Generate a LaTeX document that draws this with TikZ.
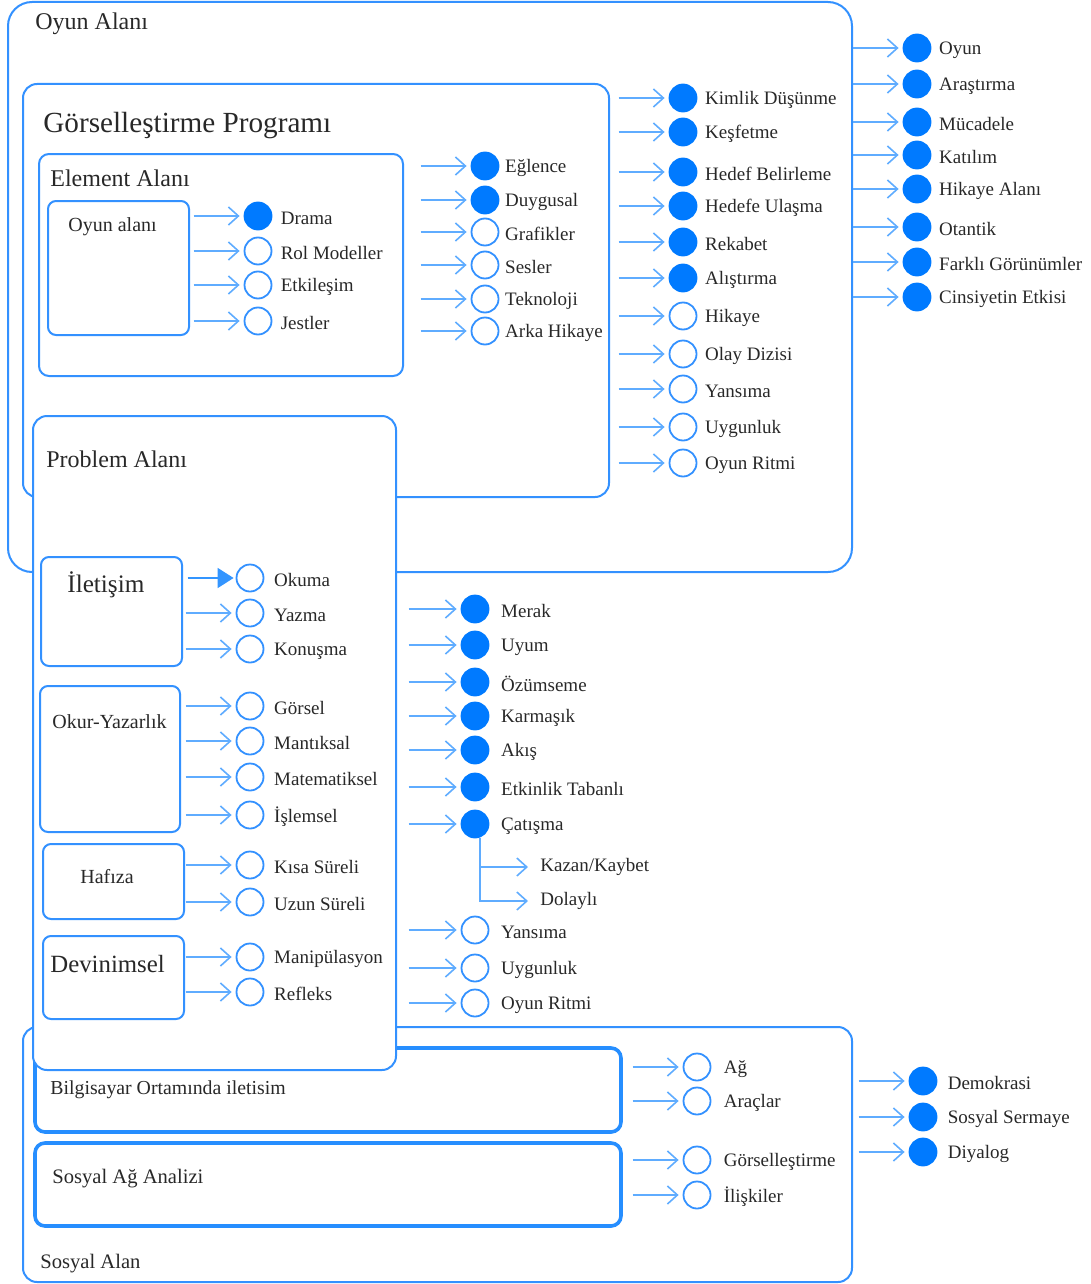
\documentclass[tikz,border=0pt]{standalone}
\usepackage{fontspec}
\setmainfont{Liberation Serif}
\usetikzlibrary{positioning,arrows.meta}
\definecolor{boxblue}{RGB}{51,145,255}
\definecolor{arrblue}{RGB}{95,172,255}
\definecolor{dotblue}{RGB}{0,122,255}
\definecolor{txtgray}{RGB}{40,40,40}
\tikzset{%
	area/.style     = {draw=boxblue, line width=1pt, rounded corners=7pt},
	heavy/.style    = {draw=dotblue!85!white, line width=1.8pt, rounded corners=5pt},
	ring/.style     = {draw=boxblue, line width=0.9pt, circle, minimum size=13.5pt, inner sep=0pt},
	dot/.style      = {ring, fill=dotblue, draw=dotblue}, % filled
	lbl/.style      = {inner sep=0pt, text=txtgray, yshift=-1pt, font=\fontsize{9.5}{11}\selectfont},
	head/.style     = {inner sep=0pt, anchor=west, yshift=-1pt, text=txtgray},
	arr/.style      = {draw=arrblue, line width=0.8pt, shorten >=2pt,
		-{Straight Barb[length=5pt,width=9pt]}},
	okarr/.style    = {draw=dotblue!80!white, line width=0.8pt, shorten >=1pt,
		-{Triangle[length=8pt,width=10pt]}}
}

\begin{document}
\begin{tikzpicture}[x=0.5pt,y=-0.5pt]
	\useasboundingbox (0,0) rectangle (1091,1284);

	% areas
	\draw[area, rounded corners=12pt] (8,2) rectangle (852,572);
	\draw[area] (23,84) rectangle (609,497);
	\draw[area, rounded corners=5pt] (39,154) rectangle (403,376);
	\draw[area, rounded corners=4pt] (48,201) rectangle (189,335);
	\draw[area] (23,1027) rectangle (852,1282);
	\draw[heavy] (35,1048) rectangle (621,1132);
	\draw[heavy] (35,1143) rectangle (621,1226);
	\draw[area, fill=white] (33,416) rectangle (396,1070);
	\draw[area, rounded corners=4pt] (41,557) rectangle (182,666);
	\draw[area, rounded corners=4pt] (40,686) rectangle (180,832);
	\draw[area, rounded corners=4pt] (43,844) rectangle (184,919);
	\draw[area, rounded corners=4pt] (43,936) rectangle (184,1019);

	% titles
	\node[head, font=\fontsize{12}{14}\selectfont] (toyun) at (35,22) {Oyun Alanı};
	\node[head, font=\fontsize{14.6}{17}\selectfont] (tgorsel) at (43,124) {Görselleştirme Programı};
	\node[head, font=\fontsize{12}{14}\selectfont] (telement) at (50,176) {Element Alanı};
	\node[head, font=\fontsize{10}{12}\selectfont] (toyunalan) at (68,225) {Oyun alanı};
	\node[head, font=\fontsize{12}{14}\selectfont] (tproblem) at (46,457) {Problem Alanı};
	\node[head, font=\fontsize{12.6}{15}\selectfont] (tilet) at (67,583) {İletişim};
	\node[head, font=\fontsize{10}{12}\selectfont] (tokur) at (52,720) {Okur-Yazarlık};
	\node[head, font=\fontsize{10}{12}\selectfont] (thafiza) at (80,875) {Hafıza};
	\node[head, font=\fontsize{12.4}{15}\selectfont] (tdevin) at (50,962) {Devinimsel};
	\node[head, font=\fontsize{9.9}{12}\selectfont] (tbilg) at (50,1088) {Bilgisayar Ortamında iletisim};
	\node[head, font=\fontsize{10.3}{12}\selectfont] (tsag) at (52,1177) {Sosyal Ağ Analizi};
	\node[head, font=\fontsize{10.3}{12}\selectfont] (tsosyal) at (40,1262) {Sosyal Alan};

	% element alani
	\foreach \y/\t/\s [count=\i] in {216/Drama/dot, 251/Rol Modeller/ring,
		285/Etkileşim/ring, 321/Jestler/ring}{
		\node[\s] (e\i) at (258,\y) {};
		\node[lbl, right=4pt of e\i] (le\i) {\t};
		\draw[arr] ([xshift=-25pt]e\i.west) -- (e\i);
	}

	% gorsellestirme programi
	\foreach \y/\t/\s [count=\i] in {166/Eğlence/dot, 200/Duygusal/dot, 232/Grafikler/ring,
		265/Sesler/ring, 299/Teknoloji/ring, 331/Arka Hikaye/ring}{
		\node[\s] (g\i) at (485,\y) {};
		\node[lbl, right=2.7pt of g\i] (lg\i) {\t};
		\draw[arr] ([xshift=-25pt]g\i.west) -- (g\i);
	}

	% oyun alani
	\foreach \y/\t/\s [count=\i] in {98/Kimlik Düşünme/dot, 132/Keşfetme/dot,
		172/Hedef Belirleme/dot, 206/Hedefe Ulaşma/dot, 242/Rekabet/dot,
		278/Alıştırma/dot, 316/Hikaye/ring, 354/Olay Dizisi/ring,
		389/Yansıma/ring, 427/Uygunluk/ring, 463/Oyun Ritmi/ring}{
		\node[\s] (k\i) at (683,\y) {};
		\node[lbl, right=3.7pt of k\i] (lk\i) {\t};
		\draw[arr] ([xshift=-25pt]k\i.west) -- (k\i);
	}

	% outside
	\foreach \y/\t [count=\i] in {48/Oyun, 84/Araştırma, 122/Mücadele, 155/Katılım,
		189/Hikaye Alanı, 227/Otantik, 262/Farklı Görünümler, 297/Cinsiyetin Etkisi}{
		\node[dot] (o\i) at (917,\y) {};
		\node[lbl, right=3.7pt of o\i] (lo\i) {\t};
		\draw[arr] ([xshift=-25pt]o\i.west) -- (o\i);
	}

	% problem alani
	\foreach \y/\t [count=\i] in {578/Okuma, 613/Yazma, 649/Konuşma, 706/Görsel,
		741/Mantıksal, 777/Matematiksel, 815/İşlemsel, 865/Kısa Süreli,
		902/Uzun Süreli, 957/Manipülasyon, 992/Refleks}{
		\node[ring] (p\i) at (250,\y) {};
		\node[lbl, right=4.7pt of p\i] (lp\i) {\t};
	}
	\draw[okarr] ([xshift=-24pt]p1.west) -- (p1);
	\foreach \i in {2,...,11}
		\draw[arr] ([xshift=-25pt]p\i.west) -- (p\i);

	\foreach \y/\t/\s [count=\i] in {609/Merak/dot, 645/Uyum/dot, 682/Özümseme/dot,
		716/Karmaşık/dot, 750/Akış/dot, 787/Etkinlik Tabanlı/dot, 824/Çatışma/dot,
		930/Yansıma/ring, 968/Uygunluk/ring, 1003/Oyun Ritmi/ring}{
		\node[\s] (m\i) at (475,\y) {};
		\node[lbl, right=5.7pt of m\i] (lm\i) {\t};
		\draw[arr] ([xshift=-26pt]m\i.west) -- (m\i);
	}
	\node[lbl, anchor=west] (kazan) at (540,865) {Kazan/Kaybet};
	\node[lbl, anchor=west] (dolayli) at (540,899) {Dolaylı};
	\draw[arr, shorten >=6pt] ([xshift=2.5pt]m7.south) |- (kazan.west);
	\draw[arr, shorten >=6pt] ([xshift=2.5pt]m7.south) |- (dolayli.west);

	% sosyal alan
	\foreach \y/\t [count=\i] in {1067/Ağ, 1101/Araçlar, 1160/Görselleştirme, 1195/İlişkiler}{
		\node[ring] (s\i) at (697,\y) {};
		\node[lbl, right=6pt of s\i] (ls\i) {\t};
		\draw[arr] ([xshift=-25pt]s\i.west) -- (s\i);
	}
	\foreach \y/\t [count=\i] in {1081/Demokrasi, 1117/Sosyal Sermaye, 1152/Diyalog}{
		\node[dot] (d\i) at (923,\y) {};
		\node[lbl, right=5pt of d\i] (ld\i) {\t};
		\draw[arr] ([xshift=-25pt]d\i.west) -- (d\i);
	}
\end{tikzpicture}
\end{document}
